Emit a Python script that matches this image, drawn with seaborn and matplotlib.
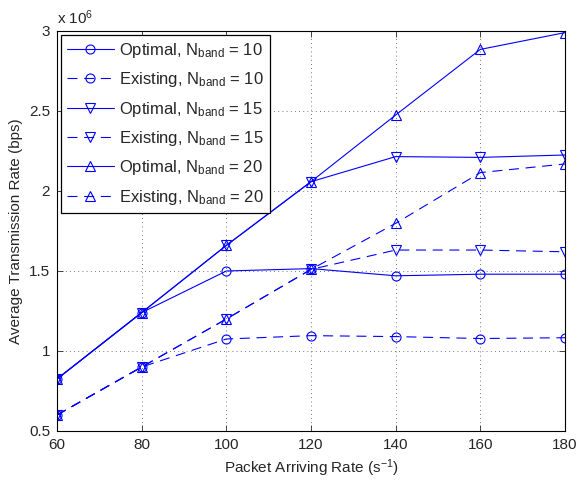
import numpy as np
import pandas as pd
import matplotlib
matplotlib.use("Agg")
import matplotlib.pyplot as plt
import seaborn as sns

rate = [60, 80, 100, 120, 140, 160, 180]
opt_10 = [0.825, 1.24, 1.50, 1.515, 1.47, 1.48, 1.48]
exi_10 = [0.60, 0.90, 1.075, 1.096, 1.09, 1.078, 1.083]
opt_15 = [0.825, 1.24, 1.66, 2.058, 2.215, 2.21, 2.225]
exi_15 = [0.60, 0.90, 1.20, 1.51, 1.631, 1.631, 1.62]
opt_20 = [0.825, 1.24, 1.66, 2.058, 2.475, 2.885, 2.99]
exi_20 = [0.60, 0.90, 1.20, 1.51, 1.798, 2.115, 2.169]

labels = [r"Optimal, N$_{\mathrm{band}}$ = 10", r"Existing, N$_{\mathrm{band}}$ = 10",
          r"Optimal, N$_{\mathrm{band}}$ = 15", r"Existing, N$_{\mathrm{band}}$ = 15",
          r"Optimal, N$_{\mathrm{band}}$ = 20", r"Existing, N$_{\mathrm{band}}$ = 20"]
series = [opt_10, exi_10, opt_15, exi_15, opt_20, exi_20]
markers = ["o", "o", "v", "v", "^", "^"]
styles = ["-", "--", "-", "--", "-", "--"]

sns.set_style("ticks")
plt.rcParams["font.family"] = ["Liberation Sans", "DejaVu Sans"]
plt.rcParams["mathtext.fontset"] = "custom"
plt.rcParams["mathtext.rm"] = "Liberation Sans"
plt.rcParams["mathtext.it"] = "Liberation Sans:italic"

fig = plt.figure(figsize=(5.78, 4.82), dpi=100)
ax = fig.add_axes([57/578, 1-431/482, (565-57)/578, (431-31)/482])

for ys, lab, mk, ls in zip(series, labels, markers, styles):
    df = pd.DataFrame({"x": rate, "y": ys})
    line = sns.lineplot(data=df, x="x", y="y", ax=ax, color="#0000ff", linewidth=0.8,
                        marker=mk, markersize=6.5, markerfacecolor="none",
                        markeredgecolor="#0000ff", markeredgewidth=0.8, label=lab).lines[-1]
    if ls == "--":
        line.set_dashes((9, 6))

ax.set_xlim(60, 180)
ax.set_ylim(0.5, 3)
ax.set_xticks(rate)
ax.set_yticks([0.5, 1, 1.5, 2, 2.5, 3])
ax.set_yticklabels(["0.5", "1", "1.5", "2", "2.5", "3"])
ax.tick_params(direction="in", top=True, right=True, labelsize=11, length=4, width=0.6, pad=5)
ax.grid(True, linestyle=(0, (1, 4)), color="black", linewidth=0.6, alpha=0.7)
for s in ax.spines.values():
    s.set_linewidth(0.8)
    s.set_color("black")
ax.set_xlabel(r"Packet Arriving Rate (s$^{-1}$)", fontsize=11)
ax.set_ylabel("Average Transmission Rate (bps)", fontsize=11)
fig.text(57/578, 1-18/482, r"x 10$^6$", fontsize=11, ha="left", va="center")

leg = ax.legend(loc="upper left", fontsize=12, frameon=True, fancybox=False,
                edgecolor="black", framealpha=1, handlelength=2.8, borderpad=0.35,
                labelspacing=0.62, borderaxespad=0.25, handletextpad=0.35)
leg.get_frame().set_linewidth(0.9)

fig.savefig("out.png", dpi=100)
